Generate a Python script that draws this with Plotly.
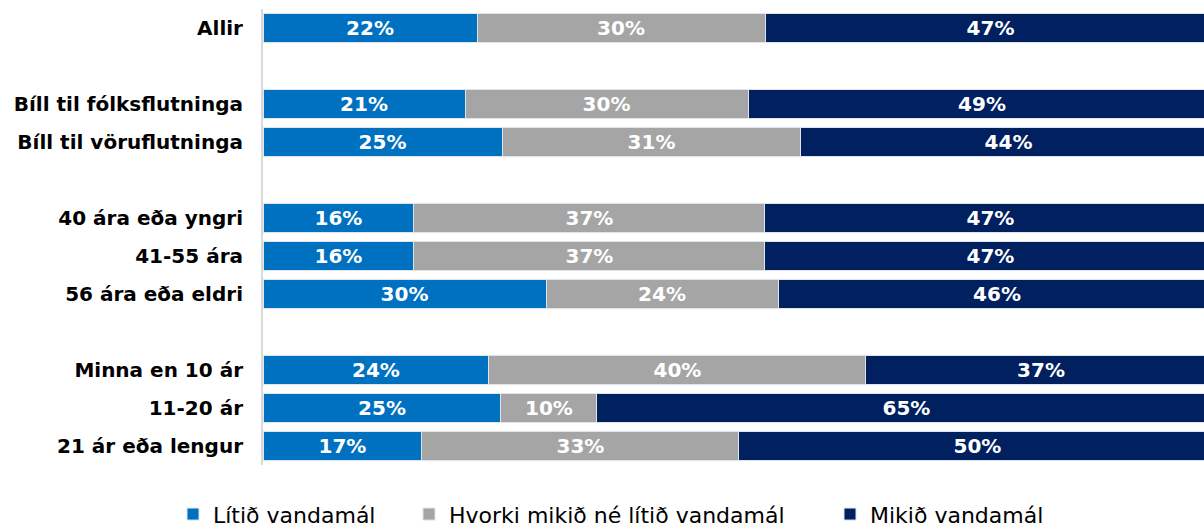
import plotly.graph_objects as go

# Categories (blank slots give the gaps between groups)
categories = ["Allir", "", "Bíll til fólksflutninga", "Bíll til vöruflutninga", "",
              "40 ára eða yngri", "41-55 ára", "56 ára eða eldri", "",
              "Minna en 10 ár", "11-20 ár", "21 ár eða lengur"]
row_labels = ["Allir", "Bíll til fólksflutninga", "Bíll til vöruflutninga",
              "40 ára eða yngri", "41-55 ára", "56 ára eða eldri",
              "Minna en 10 ár", "11-20 ár", "21 ár eða lengur"]

series_names = ["Lítið vandamál", "Hvorki mikið né lítið vandamál", "Mikið vandamál"]
litid = [22.46, 21.2, 25.08, 15.84, 15.84, 29.7, 23.71, 24.97, 16.68]
hvorki = [30.22, 29.7, 31.37, 36.83, 36.83, 24.34, 39.56, 10.07, 33.26]
mikid = [47.32, 49.1, 43.55, 47.33, 47.33, 45.96, 36.73, 64.96, 50.06]
colors = ["#0070C0", "#A5A5A5", "#002060"]

slot = [categories.index(c) for c in row_labels]

fig = go.Figure()
legend_ids = ["legend", "legend2", "legend3"]
for name, vals, col, lg in zip(series_names, [litid, hvorki, mikid], colors, legend_ids):
    fig.add_trace(go.Bar(
        y=slot, x=vals, name=name, orientation="h",
        marker=dict(color=col, line=dict(color="#dfe3ea", width=1)),
        width=0.76,
        texttemplate="%{x:.0f}%", textposition="inside", insidetextanchor="middle",
        textangle=0, constraintext="none",
        textfont=dict(family="DejaVu Sans", size=20, color="white", weight="bold"),
        legend=lg,
    ))

legend_common = dict(orientation="h", yanchor="middle", y=-0.108, xanchor="left",
                     font=dict(family="DejaVu Sans", size=22, color="#000000"),
                     bgcolor="rgba(0,0,0,0)", itemwidth=30)
fig.update_layout(
    barmode="stack",
    width=1204, height=527,
    margin=dict(l=263, r=0, t=9, b=62, autoexpand=False),
    plot_bgcolor="white", paper_bgcolor="white",
    xaxis=dict(range=[0, 98.74], showgrid=False, zeroline=False, showticklabels=False,
               showline=False, fixedrange=True),
    yaxis=dict(range=[11.5, -0.5], tickmode="array", tickvals=list(range(len(categories))),
               ticktext=categories, showgrid=False, zeroline=False,
               showline=True, linecolor="#d9d9d9", linewidth=2,
               ticks="outside", ticklen=14, tickcolor="rgba(0,0,0,0)",
               tickfont=dict(family="DejaVu Sans", size=20, color="#000000", weight="bold")),
    legend=dict(legend_common, x=(173 - 263) / 941),
    legend2=dict(legend_common, x=(409 - 263) / 941),
    legend3=dict(legend_common, x=(830 - 263) / 941),
    showlegend=True,
)

fig.write_html(
    "out.html",
    config={"displayModeBar": False},
    post_script="document.body.style.margin='0px';document.documentElement.style.overflow='hidden';",
)
